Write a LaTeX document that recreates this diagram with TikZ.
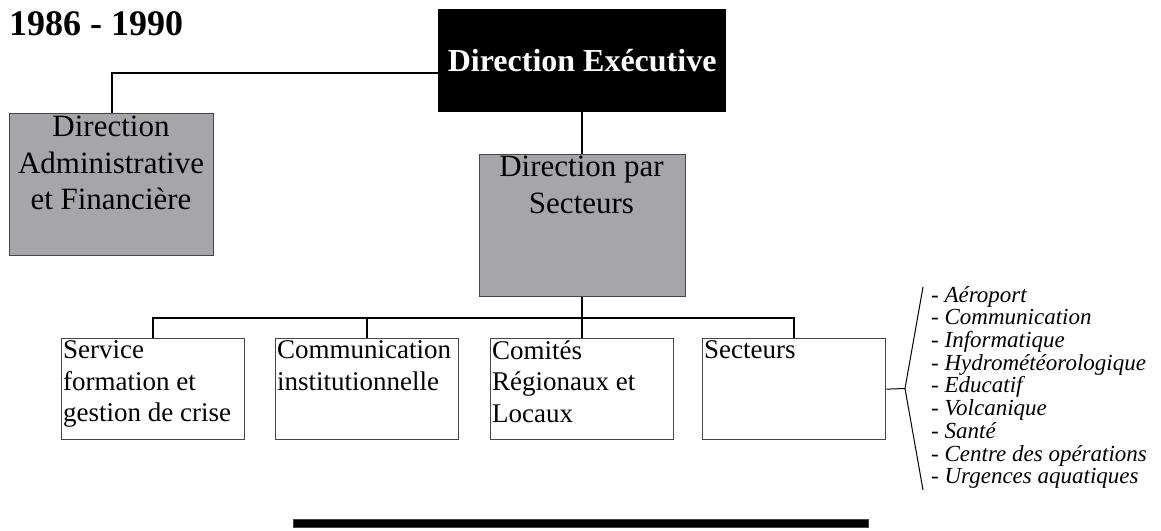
\documentclass[tikz,border=0pt]{standalone}
\usepackage{fontspec}
\setmainfont{Liberation Serif}
\definecolor{boxgray}{RGB}{166,165,170}
\definecolor{edgegray}{RGB}{70,70,70}
\begin{document}
\begin{tikzpicture}[x=1pt,y=-1pt,
  conn/.style={line width=2pt, black},
  thinline/.style={line width=1pt, black},
  box/.style={draw=edgegray, line width=1.3pt, inner sep=0pt, anchor=north west},
  graybox/.style={box, fill=boxgray, minimum width=205pt, minimum height=142pt},
  whitebox/.style={box, fill=white, minimum width=183pt, minimum height=101pt},
  bigtext/.style={inner sep=0pt, anchor=north, align=center, font=\fontsize{31}{36.5}\selectfont},
  boxtext/.style={inner sep=0pt, anchor=north west, align=left, font=\fontsize{27}{31.5}\selectfont},
  listtext/.style={inner sep=0pt, anchor=north west, align=left, font=\itshape\fontsize{23}{22.7}\selectfont}]
\useasboundingbox (0,0) rectangle (1161,530);

% title
\node[inner sep=0pt, anchor=base west, font=\bfseries\fontsize{36}{40}\selectfont] (title) at (9,35) {1986 - 1990};

% executive
\node[box, fill=black, draw=black, minimum width=287pt, minimum height=102pt,
      text=white, font=\bfseries\fontsize{32}{38}\selectfont] (exec) at (438,9) {Direction Exécutive};

% gray boxes
\node[graybox, minimum width=204pt] (daf) at (9,113) {};
\node[bigtext] (daft) at (111,116) {Direction\\Administrative\\et Financière};
\node[graybox, minimum width=206pt] (dps) at (478.5,154) {};
\node[bigtext] (dpst) at (581.5,156) {Direction par\\Secteurs};

% bottom boxes
\node[whitebox] (b1) at (61,338) {};
\node[whitebox] (b2) at (275,338) {};
\node[whitebox] (b3) at (490,338) {};
\node[whitebox] (b4) at (702,338) {};
\node[boxtext] (b1t) at (63,340.5) {Service\\formation et\\gestion de crise};
\node[boxtext] (b2t) at (277,340.5) {Communication\\institutionnelle};
\node[boxtext] (b3t) at (492,340.5) {Comités\\Régionaux et\\Locaux};
\node[boxtext] (b4t) at (704,340.5) {Secteurs};

% list
\node[listtext] (list) at (931,286) {- Aéroport\\- Communication\\- Informatique\\- Hydrométéorologique\\- Educatif\\- Volcanique\\- Santé\\- Centre des opérations\\- Urgences aquatiques};

% connectors
\draw[conn] ([yshift=-12pt]exec.west) -| (daf.north);
\draw[conn] (exec.south) -- (dps.north);
\coordinate (bus) at (581.5,318);
\draw[conn] (dps.south) -- (dps.south |- bus);
\draw[conn] (b1.north) -- (b1.north |- bus) -- (b4.north |- bus) -- (b4.north);
\draw[conn] (b2.north |- bus) -- (b2.north);
\draw[conn] (b3.north |- bus) -- (b3.north);

% bracket
\coordinate (vtx) at (905,388.5);
\coordinate (btop) at (923,287);
\coordinate (bbot) at (923,490);
\draw[thinline] (b4.east) -- (vtx);
\draw[thinline] (btop) -- (vtx) -- (bbot);

% bottom bar
\node[box, fill=black, draw=edgegray, line width=1pt, minimum width=575pt, minimum height=8pt] (bar) at (293,519) {};
\end{tikzpicture}
\end{document}
